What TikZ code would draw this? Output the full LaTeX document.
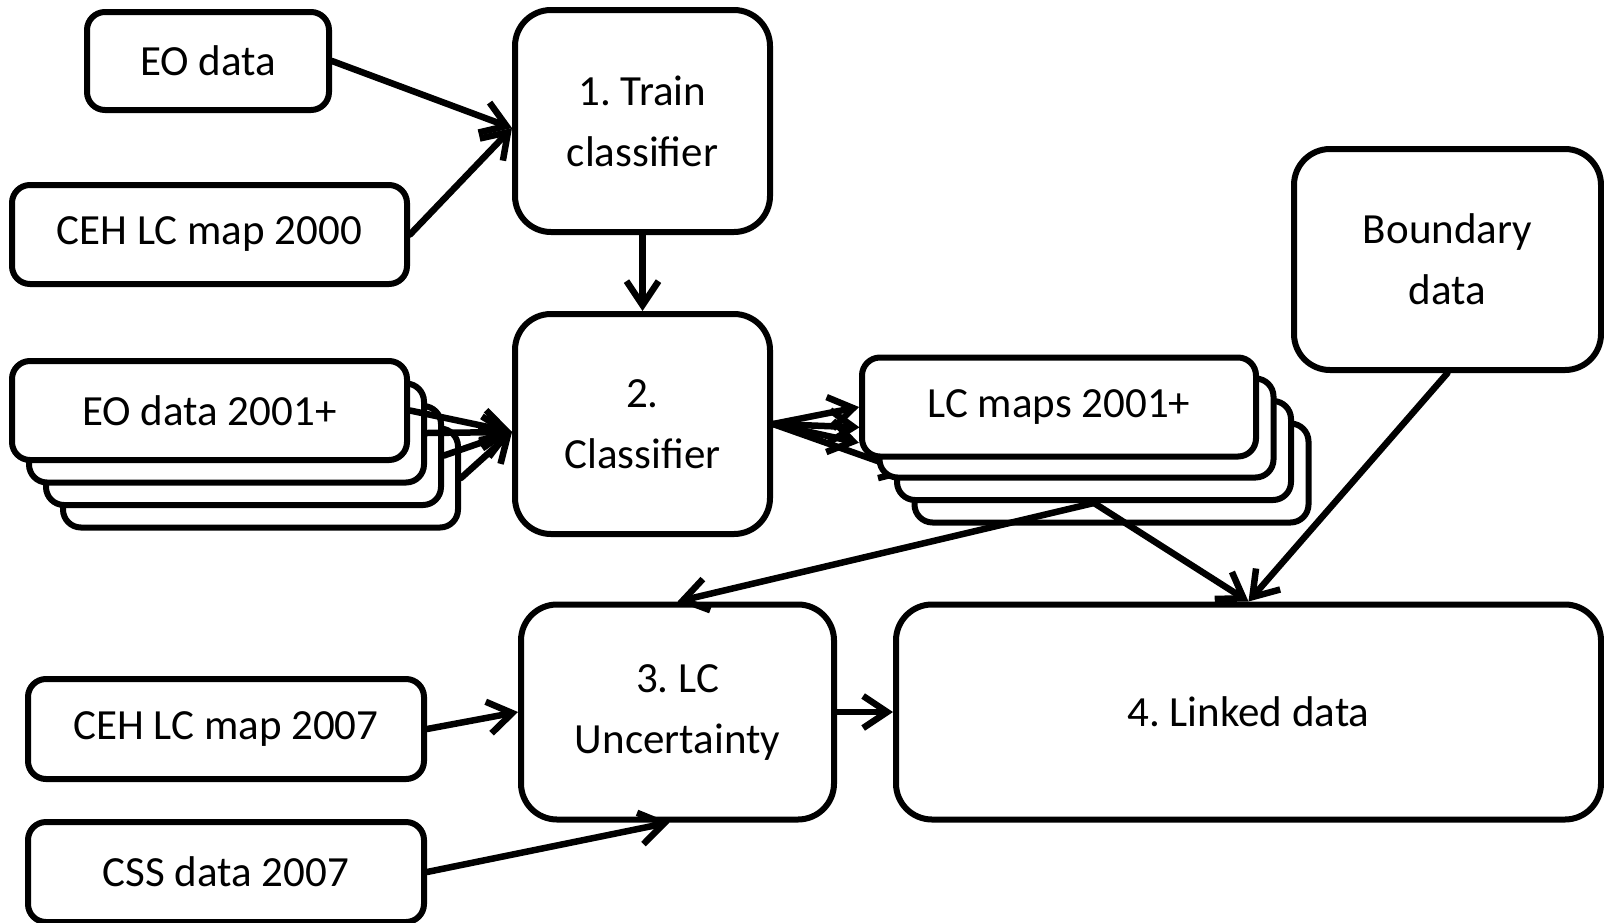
\documentclass[tikz,border=0pt]{standalone}
\usepackage{fontspec}
\setmainfont{Carlito}
\frenchspacing
\usetikzlibrary{arrows.meta,calc,backgrounds}
\begin{document}
\begin{tikzpicture}[x=1pt,y=-1pt,
  box/.style={draw=black, fill=white, line width=6pt, rounded corners=18pt, inner sep=0pt, align=center, font=\fontsize{43}{61}\selectfont\frenchspacing},
  bigbox/.style={box, rounded corners=36pt},
  conn/.style={line width=6.5pt, line cap=round, line join=round, -{Straight Barb[length=24pt,width=32pt]}}
]
\useasboundingbox (0,0) rectangle (1604,922);
% top-left inputs
\node[box, minimum width=242pt, minimum height=98pt] (eo) at (208,61) {EO data};
\node[box, minimum width=395pt, minimum height=99pt] (ceha) at (209.5,234.5) {CEH LC map 2000};
\node[bigbox, minimum width=255pt, minimum height=222pt] (train) at (642.5,121) {1. Train\\classifier};
% EO data 2001+ stack
\node[box, minimum width=395pt, minimum height=99pt] (eod) at (260.5,478) {};
\node[box, minimum width=395pt, minimum height=99pt] (eoc) at (243.5,455.5) {};
\node[box, minimum width=395pt, minimum height=99pt] (eob) at (226.5,433) {};
\node[box, minimum width=395pt, minimum height=99pt] (eoa) at (209.5,410.5) {EO data 2001+};
\node[bigbox, minimum width=255pt, minimum height=220pt] (cls) at (642.5,424) {2.\\Classifier};
% LC maps stack
\node[box, minimum width=394pt, minimum height=99pt] (lcd) at (1111.5,473) {};
\node[box, minimum width=394pt, minimum height=99pt] (lcc) at (1094,450.5) {};
\node[box, minimum width=394pt, minimum height=99pt] (lcb) at (1076.5,428) {};
\node[box, minimum width=394pt, minimum height=99pt] (lca) at (1059,407) {LC maps 2001+};
\node[bigbox, minimum width=307pt, minimum height=221pt] (bnd) at (1447.5,259.5) {Boundary\\data};
\node[bigbox, minimum width=313pt, minimum height=215pt] (lcu) at (677.5,712) {3. LC\\Uncertainty};
\node[bigbox, minimum width=705pt, minimum height=215pt] (lnk) at (1248.5,712) {4. Linked data};
\node[box, minimum width=396pt, minimum height=100pt] (cehb) at (226,729) {CEH LC map 2007};
\node[box, minimum width=396pt, minimum height=100pt] (css) at (226,872) {CSS data 2007};
% connectors
\coordinate (trin) at ($(train.west)+(0,7)$);
\draw[conn] (eo.east) -- (trin);
\draw[conn] (ceha.east) -- (trin);
\draw[conn] (train.south) -- (cls.north);
\coordinate (clsin) at ($(cls.west)+(0,8)$);
\draw[conn] (eoa.east) -- (clsin);
\draw[conn] (eob.east) -- (clsin);
\draw[conn] (eoc.east) -- (clsin);
\draw[conn] (eod.east) -- (clsin);
\begin{scope}[on background layer]
\draw[conn] (cls.east) -- (lca.west);
\draw[conn, shorten >=17pt] (cls.east) -- (lcb.west);
\draw[conn, shorten >=36pt] (cls.east) -- (lcc.west);
\draw[conn] (cls.east) -- (lcd.west);
\end{scope}
\draw[conn] (lcc.south) -- (lcu.north);
\draw[conn] (lcc.south) -- (lnk.north);
\draw[conn] (bnd.south) -- (lnk.north);
\draw[conn] (cehb.east) -- (lcu.west);
\draw[conn] (css.east) -- ($(lcu.south)+(-8,0)$);
\draw[conn] (lcu.east) -- (lnk.west);
\end{tikzpicture}
\end{document}
